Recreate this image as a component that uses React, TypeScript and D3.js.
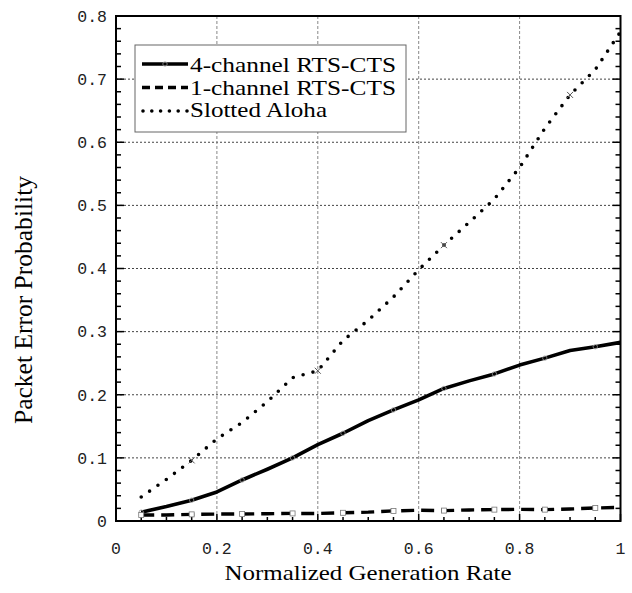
import React from "react";
import * as d3 from "d3";

const rates = [0.05, 0.1, 0.15, 0.2, 0.25, 0.3, 0.35, 0.4, 0.45, 0.5, 0.55, 0.6, 0.65, 0.7, 0.75, 0.8, 0.85, 0.9, 0.95, 1.0];
const fourChannel = [0.014, 0.023, 0.033, 0.046, 0.065, 0.082, 0.1, 0.121, 0.139, 0.159, 0.176, 0.192, 0.21, 0.222, 0.233, 0.247, 0.258, 0.27, 0.276, 0.283];
const oneChannel = [0.0095, 0.0095, 0.0105, 0.011, 0.011, 0.0116, 0.012, 0.012, 0.013, 0.014, 0.016, 0.017, 0.0165, 0.0175, 0.018, 0.0185, 0.018, 0.019, 0.0206, 0.0216];
const slottedAloha = [0.038, 0.066, 0.096, 0.13, 0.156, 0.189, 0.227, 0.238, 0.286, 0.318, 0.355, 0.398, 0.437, 0.473, 0.51, 0.56, 0.622, 0.675, 0.715, 0.775];
const xTicks = [0, 0.2, 0.4, 0.6, 0.8, 1];
const yTicks = [0, 0.1, 0.2, 0.3, 0.4, 0.5, 0.6, 0.7, 0.8];
const legendLabels = ["4-channel RTS-CTS", "1-channel RTS-CTS", "Slotted Aloha"];

const W = 632, H = 593;
const L = 116, R = 620.5, T = 16, B = 521;

export default function App() {
  const x = d3.scaleLinear().domain([0, 1]).range([L, R]);
  const y = d3.scaleLinear().domain([0, 0.8]).range([B, T]);
  const line = d3.line<[number, number]>().x(d => x(d[0])).y(d => y(d[1]));
  const pts = (arr: number[]) => rates.map((r, i) => [r, arr[i]] as [number, number]);

  const xMinor = d3.range(0, 21).map(i => i * 0.05);
  const yMinor = d3.range(0, 41).map(i => i * 0.02);
  const isMajorX = (v: number) => Math.abs(v * 5 - Math.round(v * 5)) < 1e-6;
  const isMajorY = (v: number) => Math.abs(v * 10 - Math.round(v * 10)) < 1e-6;

  const tickFont = "'Liberation Mono', 'DejaVu Sans Mono', monospace";
  const serif = "'Liberation Serif', 'Times New Roman', serif";

  const markerIdx = rates.map((_, i) => i).filter(i => i % 2 === 0);
  const xMarkerIdx = [2, 7, 12, 17];

  const legY = [64, 87.5, 111];
  const legBase = [72, 94.5, 117];

  return (
    <svg width={W} height={H} style={{ position: "absolute", left: 0, top: 0, background: "#fff" }}>
      <rect x={0} y={0} width={W} height={H} fill="#fff" />
      {/* grid */}
      {yTicks.filter(v => v > 0 && v < 0.8).map(v => (
        <line key={"gy" + v} x1={L} x2={R} y1={y(v)} y2={y(v)} stroke="#444" strokeWidth={1} strokeDasharray="2,2" />
      ))}
      {xTicks.filter(v => v > 0 && v < 1).map(v => (
        <line key={"gx" + v} x1={x(v)} x2={x(v)} y1={T} y2={B} stroke="#888" strokeWidth={1} strokeDasharray="3,2" />
      ))}
      {/* ticks */}
      {xMinor.map(v => (
        <line key={"tx" + v} x1={x(v)} x2={x(v)} y1={B} y2={B - (isMajorX(v) ? 7 : 4)} stroke="#000" strokeWidth={1.5} />
      ))}
      {yMinor.map(v => (
        <g key={"ty" + v}>
          <line x1={L} x2={L + (isMajorY(v) ? 8 : 5)} y1={y(v)} y2={y(v)} stroke="#000" strokeWidth={1.5} />
          <line x1={R} x2={R - (isMajorY(v) ? 8 : 5)} y1={y(v)} y2={y(v)} stroke="#000" strokeWidth={1.5} />
        </g>
      ))}
      {/* series */}
      <path d={line(pts(slottedAloha)) || ""} fill="none" stroke="#000" strokeWidth={3.6} strokeLinecap="round" strokeDasharray="0,10.2" />
      <path d={line(pts(fourChannel)) || ""} fill="none" stroke="#000" strokeWidth={3.6} strokeLinejoin="round" />
      <path d={line(pts(oneChannel)) || ""} fill="none" stroke="#000" strokeWidth={3.4} strokeDasharray="13,7" />
      {markerIdx.map(i => (
        <circle key={"c" + i} cx={x(rates[i])} cy={y(fourChannel[i])} r={2.2} fill="none" stroke="#999" strokeWidth={0.8} />
      ))}
      {markerIdx.map(i => (
        <rect key={"s" + i} x={x(rates[i]) - 2.5} y={y(oneChannel[i]) - 2.5} width={5} height={5} fill="#fff" stroke="#777" strokeWidth={0.8} />
      ))}
      {xMarkerIdx.map(i => (
        <g key={"x" + i} stroke="#555" strokeWidth={1}>
          <line x1={x(rates[i]) - 3} x2={x(rates[i]) + 3} y1={y(slottedAloha[i]) - 3} y2={y(slottedAloha[i]) + 3} />
          <line x1={x(rates[i]) - 3} x2={x(rates[i]) + 3} y1={y(slottedAloha[i]) + 3} y2={y(slottedAloha[i]) - 3} />
        </g>
      ))}
      {/* frame */}
      <rect x={L} y={T} width={R - L} height={B - T} fill="none" stroke="#000" strokeWidth={2} />
      {/* tick labels */}
      {yTicks.map(v => (
        <text key={"ly" + v} x={107} y={y(v)} dy="0.35em" textAnchor="end" fontFamily={tickFont} fontSize={16.5} fill="#222">
          {v === 0 ? "0" : d3.format(".1f")(v)}
        </text>
      ))}
      {xTicks.map(v => (
        <text key={"lx" + v} x={x(v)} y={548} dy="0.35em" textAnchor="middle" fontFamily={tickFont} fontSize={16.5} fill="#222">
          {v === 0 || v === 1 ? String(v) : d3.format(".1f")(v)}
        </text>
      ))}
      {/* axis titles */}
      <text x={368} y={580} textAnchor="middle" fontFamily={serif} fontSize={21} textLength={287} lengthAdjust="spacingAndGlyphs">
        Normalized Generation Rate
      </text>
      <text transform="translate(32,300) rotate(-90)" textAnchor="middle" fontFamily={serif} fontSize={25} textLength={248} lengthAdjust="spacingAndGlyphs">
        Packet Error Probability
      </text>
      {/* legend */}
      <rect x={135} y={45} width={271} height={87} fill="#fff" stroke="#666" strokeWidth={1} />
      <line x1={142} x2={188} y1={legY[0]} y2={legY[0]} stroke="#000" strokeWidth={3.6} />
      <circle cx={165} cy={legY[0]} r={2.2} fill="none" stroke="#999" strokeWidth={0.8} />
      <line x1={142} x2={188} y1={legY[1]} y2={legY[1]} stroke="#000" strokeWidth={3.4} strokeDasharray="8,5" />
      <line x1={143} x2={188} y1={legY[2]} y2={legY[2]} stroke="#000" strokeWidth={3.6} strokeLinecap="round" strokeDasharray="0,8.8" />
      {legendLabels.map((s, i) => (
        <text key={s} x={190} y={legBase[i]} fontFamily={serif} fontSize={21} textLength={i === 2 ? 137 : 206} lengthAdjust="spacingAndGlyphs">
          {s}
        </text>
      ))}
    </svg>
  );
}
